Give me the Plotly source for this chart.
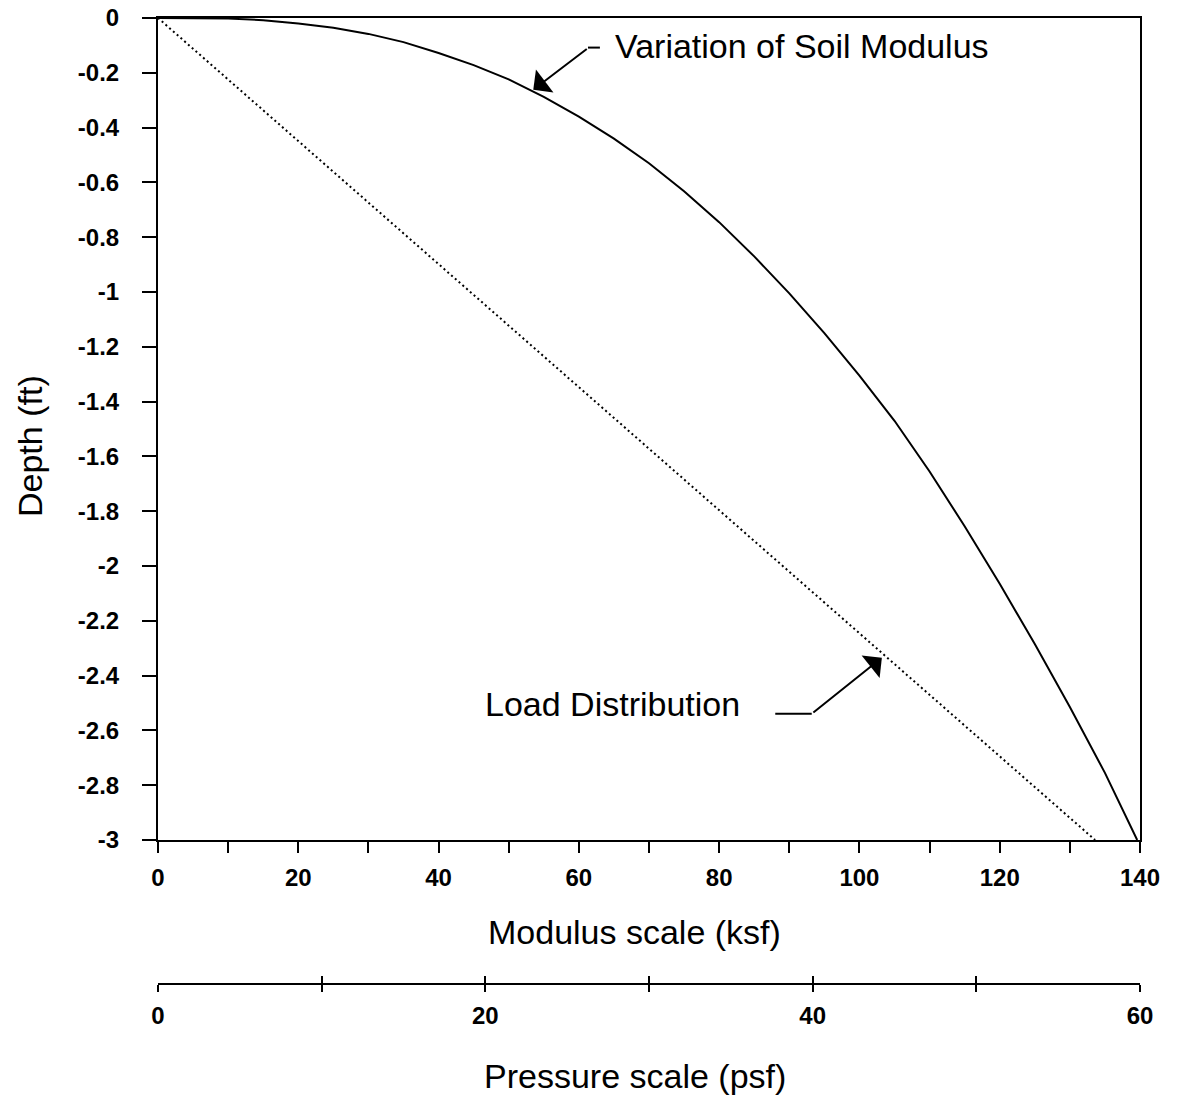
import plotly.graph_objects as go

# ---- data ----
soil_modulus_ksf = [0, 5, 10, 15, 20, 25, 30, 35, 40, 45, 50, 55, 60, 65, 70, 75, 80, 85,
                    90, 95, 100, 105, 110, 115, 120, 125, 130, 135, 139.6]
soil_depth_ft = [0, 0.0, -0.002, -0.008, -0.02, -0.036, -0.058, -0.088, -0.128, -0.172,
                 -0.224, -0.288, -0.36, -0.44, -0.53, -0.632, -0.745, -0.87, -1.005, -1.15,
                 -1.305, -1.47, -1.655, -1.855, -2.065, -2.285, -2.515, -2.755, -3.0]

load_modulus_ksf = [0, 133.6]
load_depth_ft = [0, -3.0]

x_tick_vals = [0, 10, 20, 30, 40, 50, 60, 70, 80, 90, 100, 110, 120, 130, 140]
x_tick_text = ["0", "", "20", "", "40", "", "60", "", "80", "", "100", "", "120", "", "140"]
y_tick_vals = [0, -0.2, -0.4, -0.6, -0.8, -1, -1.2, -1.4, -1.6, -1.8, -2, -2.2, -2.4,
               -2.6, -2.8, -3]
y_tick_text = ["0", "-0.2", "-0.4", "-0.6", "-0.8", "-1", "-1.2", "-1.4", "-1.6", "-1.8",
               "-2", "-2.2", "-2.4", "-2.6", "-2.8", "-3"]
p_tick_vals = [0, 10, 20, 30, 40, 50, 60]
p_tick_text = ["0", "", "20", "", "40", "", "60"]

FONT = "Liberation Sans, Arial, Helvetica, sans-serif"
W, H = 1177, 1097
ML, MR, MT, MB = 158, 37, 18, 40
PW = W - ML - MR
PH = H - MT - MB


def px_x(px):
    return (px - ML) / PW


def px_y(py):
    return (H - MB - py) / PH


def bold(labels):
    return [f"<b>{t}</b>" if t else "" for t in labels]


fig = go.Figure()
fig.add_trace(go.Scatter(x=soil_modulus_ksf, y=soil_depth_ft, mode="lines",
                         line=dict(color="black", width=2),
                         cliponaxis=False, showlegend=False, hoverinfo="skip"))
fig.add_trace(go.Scatter(x=load_modulus_ksf, y=load_depth_ft, mode="lines",
                         line=dict(color="black", width=2, dash="2px,3px"),
                         cliponaxis=False, showlegend=False, hoverinfo="skip"))
fig.add_trace(go.Scatter(x=[0, 60], y=[0, 0], xaxis="x2", yaxis="y2", mode="lines",
                         opacity=0, showlegend=False, hoverinfo="skip"))
fig.add_trace(go.Scatter(x=[0, 60], y=[0, 0], xaxis="x3", yaxis="y2", mode="lines",
                         opacity=0, showlegend=False, hoverinfo="skip"))

tickfont = dict(family=FONT, size=24, color="black")

P_Y0 = px_y(983)

fig.update_layout(
    width=W, height=H,
    margin=dict(l=ML, r=MR, t=MT, b=MB, autoexpand=False),
    paper_bgcolor="white", plot_bgcolor="white",
    font=dict(family=FONT, color="black"),
    xaxis=dict(range=[0, 140], tickmode="array", tickvals=x_tick_vals,
               ticktext=bold(x_tick_text), ticks="outside", ticklen=11, tickwidth=1.5,
               tickcolor="black", showline=True, linecolor="black", linewidth=2,
               mirror=True, showgrid=False, zeroline=False, tickfont=tickfont,
               ticklabelstandoff=4, anchor="y", automargin=False),
    yaxis=dict(range=[-3, 0], domain=[px_y(840), 1], tickmode="array",
               tickvals=y_tick_vals, ticktext=bold(y_tick_text), ticks="outside",
               ticklen=14, tickwidth=1.5, tickcolor="black", showline=True,
               linecolor="black", linewidth=2, mirror=True, showgrid=False,
               zeroline=False, tickfont=tickfont, ticklabelstandoff=18, anchor="x",
               automargin=False),
    xaxis2=dict(range=[0, 60], tickmode="array", tickvals=p_tick_vals,
                ticktext=bold(p_tick_text), ticks="outside", ticklen=7, tickwidth=1.5,
                tickcolor="black", showline=True, linecolor="black", linewidth=2,
                showgrid=False, zeroline=False, tickfont=tickfont, ticklabelstandoff=3,
                anchor="y2", automargin=False),
    xaxis3=dict(range=[0, 60], tickmode="array", tickvals=p_tick_vals,
                showticklabels=False, ticks="inside", ticklen=7, tickwidth=1.5,
                tickcolor="black", showline=False, showgrid=False, zeroline=False,
                anchor="y2", overlaying="x2", side="bottom", automargin=False),
    yaxis2=dict(domain=[P_Y0, P_Y0 + 0.05], visible=False, range=[0, 1], anchor="x2"),
)

title_font = dict(family=FONT, size=34, color="black")
ann = [
    dict(text="Modulus scale (ksf)", x=px_x(634), y=px_y(932), xref="paper", yref="paper",
         showarrow=False, font=title_font, xanchor="center", yanchor="middle"),
    dict(text="Pressure scale (psf)", x=px_x(635), y=px_y(1076), xref="paper", yref="paper",
         showarrow=False, font=title_font, xanchor="center", yanchor="middle"),
    dict(text="Depth (ft)", x=px_x(30), y=px_y(446), xref="paper", yref="paper",
         showarrow=False, font=title_font, textangle=-90, xanchor="center",
         yanchor="middle"),
    dict(text="Variation of Soil Modulus", x=px_x(613), y=px_y(46), xref="paper",
         yref="paper", showarrow=False, font=title_font, xanchor="left", yanchor="middle"),
    dict(text="Load Distribution", x=px_x(483), y=px_y(704), xref="paper", yref="paper",
         showarrow=False, font=title_font, xanchor="left", yanchor="middle"),
    # arrows
    dict(text="", x=53.5, y=-0.262, xref="x", yref="y", showarrow=True, ax=55, ay=-42,
         arrowhead=1, arrowsize=2.4, arrowwidth=2, arrowcolor="black", standoff=0),
    dict(text="", x=103.2, y=-2.335, xref="x", yref="y", showarrow=True, ax=-70, ay=56,
         arrowhead=1, arrowsize=2.4, arrowwidth=2, arrowcolor="black", standoff=0),
]
fig.update_layout(annotations=ann)

fig.update_layout(shapes=[
    dict(type="line", xref="x", yref="y", x0=61.3, x1=63.0, y0=-0.108, y1=-0.108,
         line=dict(color="black", width=2)),
    dict(type="line", xref="x", yref="y", x0=88.0, x1=93.2, y0=-2.539, y1=-2.539,
         line=dict(color="black", width=2)),
])

fig.write_html("out.html")
